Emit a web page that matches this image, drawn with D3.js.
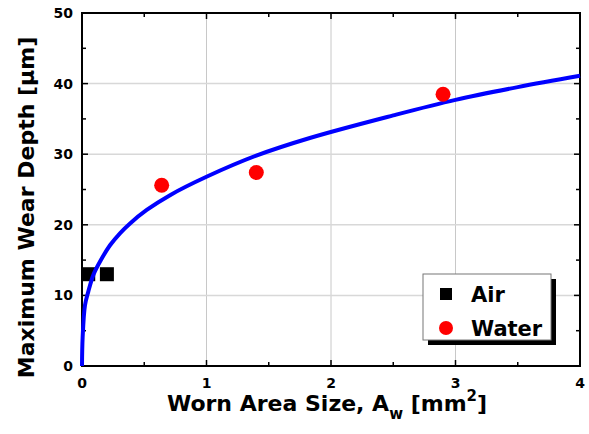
<!DOCTYPE html>
<meta charset="utf-8">
<style>
  body { margin: 0; background: #fff; }
  text { font-family: "DejaVu Sans", Verdana, sans-serif; font-weight: bold; fill: #000; }
</style>
<body>
<script src="https://d3js.org/d3.v7.min.js"></script>
<script>

// data
var airX = [0.05, 0.2];
var airY = [13.0, 13.0];
var waterX = [0.64, 1.40, 2.90];
var waterY = [25.6, 27.4, 38.5];
// fitted curve
var fitX = [0, 0.005, 0.024, 0.05, 0.091, 0.145, 0.225, 0.305, 0.386, 0.52, 0.707, 1.0, 1.4, 1.83, 2.5, 3.0, 3.5, 4.0];
var fitY = [0, 4.0, 8.6, 10.5, 12.9, 14.8, 17.1, 18.8, 20.2, 22.1, 24.2, 26.8, 29.8, 32.3, 35.5, 37.7, 39.5, 41.1];
var xTicks = [0, 1, 2, 3, 4];
var yTicks = [0, 10, 20, 30, 40, 50];
var legendNames = ["Air", "Water"];

var margin = {top: 13, right: 9, bottom: 68, left: 82},
    width = 589 - margin.left - margin.right,
    height = 434 - margin.top - margin.bottom;

var x = d3.scaleLinear().domain([0, 4]).range([0, width]);
var y = d3.scaleLinear().domain([0, 50]).range([height, 0]);

var svg = d3.select("body").append("svg")
    .attr("width", 589)
    .attr("height", 434)
  .append("g")
    .attr("transform", "translate(" + margin.left + "," + margin.top + ")");

// grid
svg.append("g").selectAll("line")
    .data(xTicks.slice(1, -1))
  .enter().append("line")
    .attr("x1", d => x(d)).attr("x2", d => x(d))
    .attr("y1", 0).attr("y2", height)
    .style("stroke", "#c8c8c8").style("stroke-width", 1);
svg.append("g").selectAll("line")
    .data(yTicks.slice(1, -1))
  .enter().append("line")
    .attr("y1", d => y(d)).attr("y2", d => y(d))
    .attr("x1", 0).attr("x2", width)
    .style("stroke", "#d8d8d8").style("stroke-width", 1.5);

// inward ticks on all four sides
var xMinor = d3.range(0.5, 4, 1);
var yMinor = d3.range(5, 50, 10);
function ticks(g, data, len, side) {
  g.selectAll("line").data(data).enter().append("line")
    .each(function(d) {
      var s = d3.select(this);
      if (side == "b") s.attr("x1", x(d)).attr("x2", x(d)).attr("y1", height).attr("y2", height - len);
      if (side == "t") s.attr("x1", x(d)).attr("x2", x(d)).attr("y1", 0).attr("y2", len);
      if (side == "l") s.attr("y1", y(d)).attr("y2", y(d)).attr("x1", 0).attr("x2", len);
      if (side == "r") s.attr("y1", y(d)).attr("y2", y(d)).attr("x1", width).attr("x2", width - len);
    })
    .style("stroke", "#000").style("stroke-width", 1.5);
}
var tg = svg.append("g");
["b", "t"].forEach(function(s) {
  ticks(tg.append("g"), xTicks, 6, s);
  ticks(tg.append("g"), xMinor, 4, s);
});
["l", "r"].forEach(function(s) {
  ticks(tg.append("g"), yTicks, 6, s);
  ticks(tg.append("g"), yMinor, 4, s);
});

// frame
svg.append("rect")
    .attr("width", width).attr("height", height)
    .style("fill", "none").style("stroke", "#000").style("stroke-width", 2);

// tick labels
svg.append("g").selectAll("text")
    .data(xTicks)
  .enter().append("text")
    .attr("x", d => x(d))
    .attr("y", height + 22)
    .attr("text-anchor", "middle")
    .style("font-size", "14px")
    .text(d => d);
svg.append("g").selectAll("text")
    .data(yTicks)
  .enter().append("text")
    .attr("x", -9)
    .attr("y", d => y(d))
    .attr("dy", "0.36em")
    .attr("text-anchor", "end")
    .style("font-size", "14px")
    .text(d => d);

// axis titles
var xt = svg.append("text")
    .attr("x", width / 2 - 4)
    .attr("y", height + 45)
    .attr("text-anchor", "middle")
    .style("font-size", "22px");
xt.append("tspan").text("Worn Area Size, A");
xt.append("tspan").attr("dy", 8).style("font-size", "15px").text("w");
xt.append("tspan").attr("dy", -8).text(" [mm");
xt.append("tspan").attr("dy", -10).style("font-size", "15px").text("2");
xt.append("tspan").attr("dy", 10).text("]");

svg.append("text")
    .attr("transform", "translate(" + (-margin.left + 34) + "," + (height / 2 + 18) + ")rotate(-90)")
    .attr("text-anchor", "middle")
    .style("font-size", "22px")
    .text("Maximum Wear Depth [\u03bcm]");

// points (air squares sit under the fit line)
svg.append("g").selectAll("rect")
    .data(airX)
  .enter().append("rect")
    .attr("x", (d, i) => x(d) - 7)
    .attr("y", (d, i) => y(airY[i]) - 7)
    .attr("width", 14).attr("height", 14)
    .style("fill", "#000");

// fit line
var line = d3.line()
    .x(function(d, i) { return x(fitX[i]); })
    .y(function(d, i) { return y(fitY[i]); })
    .curve(d3.curveCatmullRom.alpha(0.5));
svg.append("path")
    .datum(fitX)
    .attr("d", line)
    .style("fill", "none").style("stroke", "#0000ff").style("stroke-width", 4);

svg.append("g").selectAll("circle")
    .data(waterX)
  .enter().append("circle")
    .attr("cx", d => x(d))
    .attr("cy", (d, i) => y(waterY[i]))
    .attr("r", 7.5)
    .style("fill", "#ff0000");

// legend
var lg = svg.append("g").attr("transform", "translate(" + (423 - margin.left) + "," + (274 - margin.top) + ")");
lg.append("rect").attr("x", 5).attr("y", 5).attr("width", 128).attr("height", 66).style("fill", "#000");
lg.append("rect").attr("width", 128).attr("height", 66)
    .style("fill", "#fff").style("stroke", "#777").style("stroke-width", 1);
var items = lg.selectAll(".legend")
    .data(legendNames)
  .enter().append("g")
    .attr("class", "legend")
    .attr("transform", (d, i) => "translate(0," + (20 + i * 34) + ")");
items.filter((d, i) => i == 0).append("rect")
    .attr("x", 17).attr("y", -6).attr("width", 12).attr("height", 12).style("fill", "#000");
items.filter((d, i) => i == 1).append("circle")
    .attr("cx", 23).attr("cy", 0).attr("r", 7).style("fill", "#ff0000");
items.append("text")
    .attr("x", 48).attr("y", 0).attr("dy", "0.36em")
    .style("font-size", "21px")
    .text(d => d);

</script>
</body>
